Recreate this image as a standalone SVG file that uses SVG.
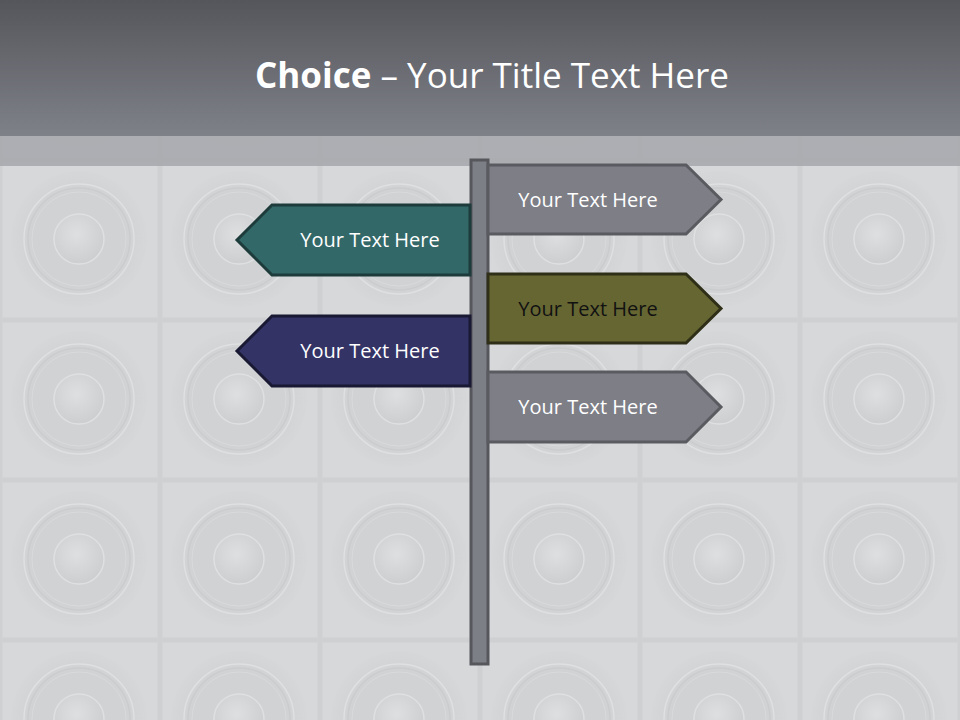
<svg xmlns="http://www.w3.org/2000/svg" width="960" height="720" viewBox="0 0 960 720">
<defs>
<linearGradient id="hdr" x1="0" y1="0" x2="0" y2="1">
<stop offset="0" stop-color="#55565b"/>
<stop offset="1" stop-color="#7f8189"/>
</linearGradient>
<radialGradient id="cone" cx="0.45" cy="0.4" r="0.6">
<stop offset="0" stop-color="#dedfe0"/>
<stop offset="1" stop-color="#cdcecf"/>
</radialGradient>
<radialGradient id="outer" cx="0.5" cy="0.5" r="0.5">
<stop offset="0.7" stop-color="#d1d2d3"/>
<stop offset="1" stop-color="#d6d7d8"/>
</radialGradient>
<pattern id="spk" x="0" y="0" width="160" height="160" patternUnits="userSpaceOnUse">
<rect width="160" height="160" fill="#d7d8d9"/>
<rect x="0" y="0" width="160" height="160" fill="none" stroke="#cfd0d2" stroke-width="5"/>
<circle cx="79" cy="79" r="68" fill="url(#outer)"/>
<circle cx="79" cy="79" r="55" fill="none" stroke="#dfe0e1" stroke-width="1.5"/>
<circle cx="79" cy="79" r="51" fill="none" stroke="#cbcccd" stroke-width="1.5"/>
<circle cx="79" cy="79" r="47" fill="none" stroke="#d9dadb" stroke-width="1"/>
<circle cx="79" cy="79" r="25" fill="url(#cone)" stroke="#dfe0e1" stroke-width="1.5"/>
</pattern>
</defs>
<style>
.lbl{font-family:"Open Sans","Noto Sans","Liberation Sans",sans-serif;font-size:20px;text-anchor:middle;fill:#ffffff}
.gray{fill:#7d7e86;stroke:#5a5b60;stroke-width:3;stroke-linejoin:miter}
</style>
<rect width="960" height="720" fill="url(#spk)"/>
<rect x="0" y="135" width="960" height="31" fill="#a6a7ab" opacity="0.85"/>
<rect x="0" y="0" width="960" height="136" fill="url(#hdr)"/>
<text x="492" y="88" font-family="Open Sans, Noto Sans, Liberation Sans, sans-serif" font-size="35" fill="#ffffff" text-anchor="middle"><tspan font-weight="bold">Choice</tspan> – Your Title Text Here</text>

<g id="post">
<rect x="471" y="160" width="17" height="504" fill="#7d7f87" stroke="#56575c" stroke-width="3"/>
</g>
<g id="sign-right-1">
<path d="M488 165 H686 L721 199.5 L686 234 H488 Z" class="gray"/>
<text x="588" y="206.5" class="lbl">Your Text Here</text>
</g>
<g id="sign-left-1">
<path d="M470 205 H272 L237 240 L272 275 H470 Z" fill="#336868" stroke="#1d3b3b" stroke-width="3"/>
<text x="370" y="247" class="lbl">Your Text Here</text>
</g>
<g id="sign-right-2">
<path d="M488 274 H686 L721 308.5 L686 343 H488 Z" fill="#666633" stroke="#2f2f18" stroke-width="3"/>
<text x="588" y="315.5" class="lbl" style="fill:#111111">Your Text Here</text>
</g>
<g id="sign-left-2">
<path d="M470 316 H272 L237 351 L272 386 H470 Z" fill="#333366" stroke="#191933" stroke-width="3"/>
<text x="370" y="358" class="lbl">Your Text Here</text>
</g>
<g id="sign-right-3">
<path d="M488 372 H686 L721 407 L686 442 H488 Z" class="gray"/>
<text x="588" y="414" class="lbl">Your Text Here</text>
</g>
</svg>
